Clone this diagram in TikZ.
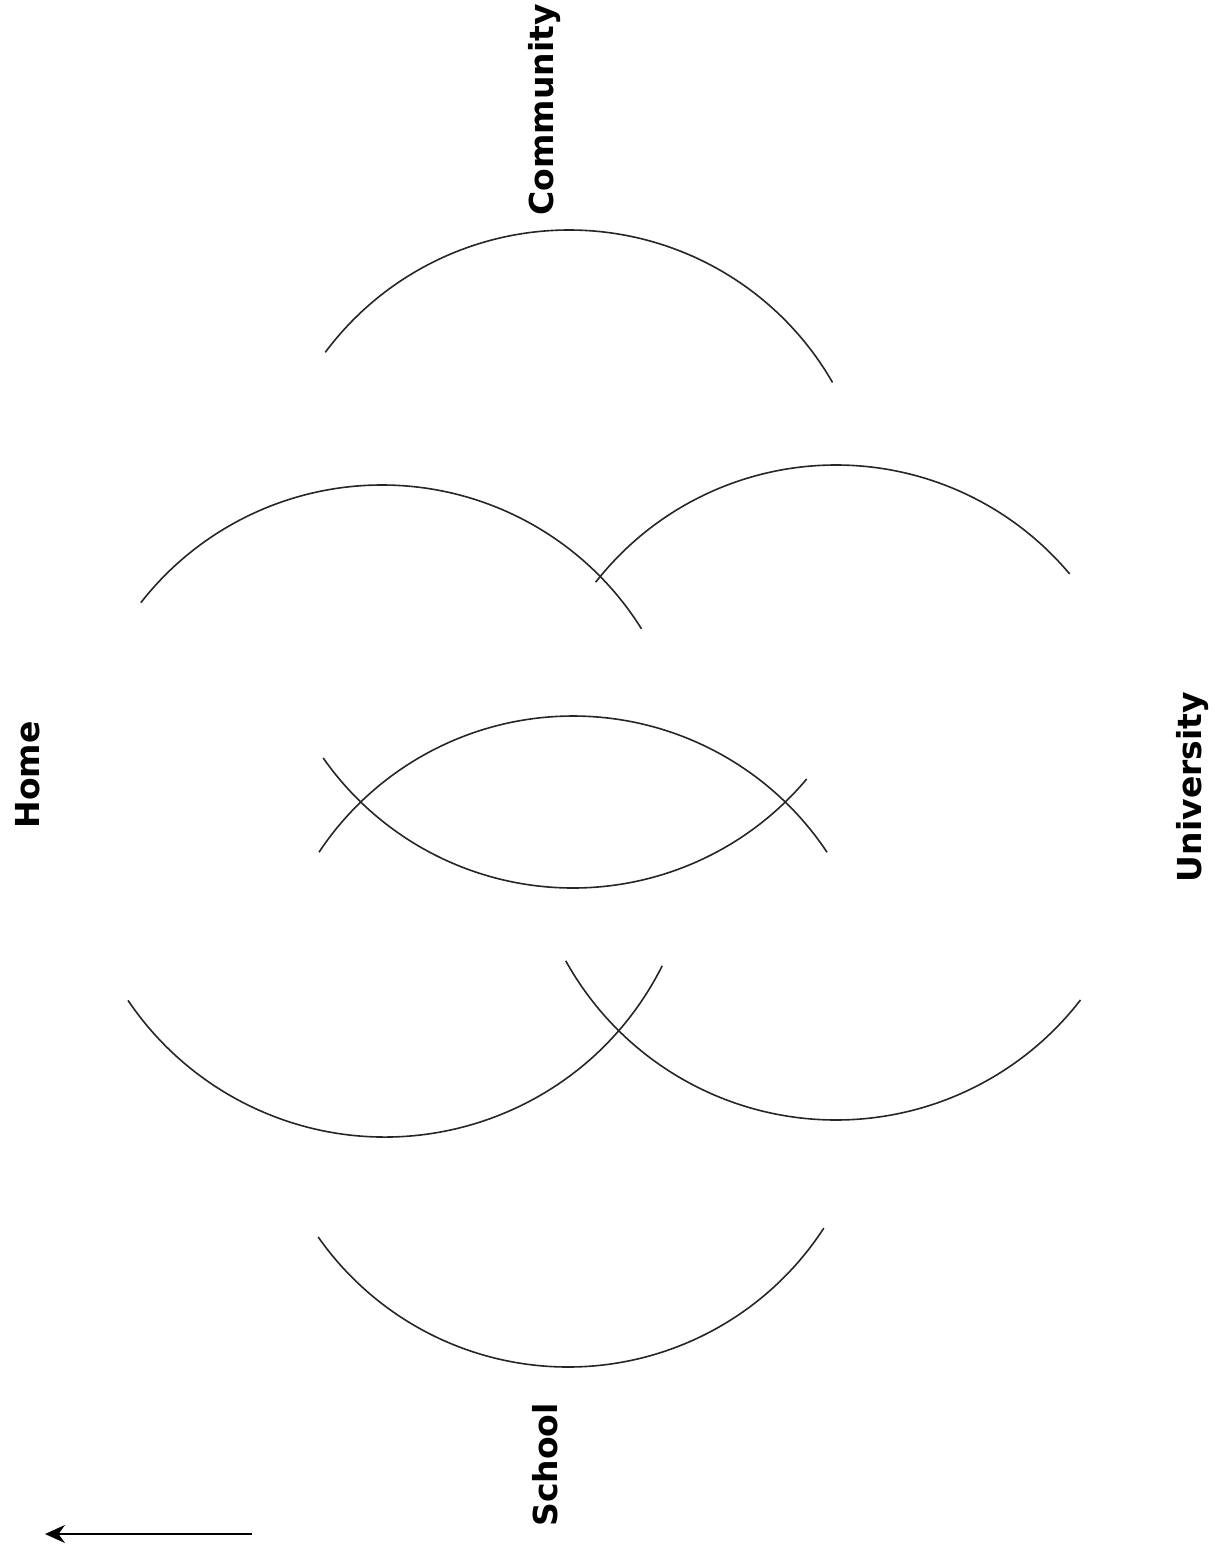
\documentclass[tikz,border=0pt]{standalone}
\usepackage{fontspec}
\setmainfont{DejaVu Sans}
\usetikzlibrary{arrows.meta}

\begin{document}
\begin{tikzpicture}[x=0.5pt, y=-0.5pt,
    sphere/.style={font=\fontsize{16.5}{20}\selectfont\bfseries, rotate=90, inner sep=0pt},
    ring/.style={line width=0.8pt, black!85}]
  % Page frame
  \useasboundingbox (0,0) rectangle (1221,1556);

  % Setting labels
  \node[sphere] (community) at (545,110) {Community};
  \node[sphere] (home) at (28,775) {Home};
  \node[sphere] (university) at (1193,787) {University};
  \node[sphere] (school) at (545,1465) {School};

  % Top arc
  \draw[ring] (569,534) ++(-143.3:304) arc (-143.3:-29.9:304);

  % Upper pair of arcs
  \draw[ring] (382,791) ++(-142:306) arc (-142:-32:306);
  \draw[ring] (836,770) ++(-142:305) arc (-142:-40:305);

  % Middle lens
  \draw[ring] (573,1021) ++(-146.4:305) arc (-146.4:-33.6:305);
  \draw[ring] (573,583) ++(40:305) arc (40:145:305);

  % Lower pair of arcs
  \draw[ring] (385,827) ++(26.6:310) arc (26.6:146:310);
  \draw[ring] (836,811) ++(37.7:309) arc (37.7:151:309);

  % Bottom arc
  \draw[ring] (568,1062) ++(33:305) arc (33:145:305);

  % Direction arrow
  \coordinate (tailend) at (252,1534);
  \coordinate (tipend) at (45,1534);
  \draw[line width=0.9pt, -{Stealth[length=10pt, width=9pt]}] (tailend) -- (tipend);
\end{tikzpicture}
\end{document}
